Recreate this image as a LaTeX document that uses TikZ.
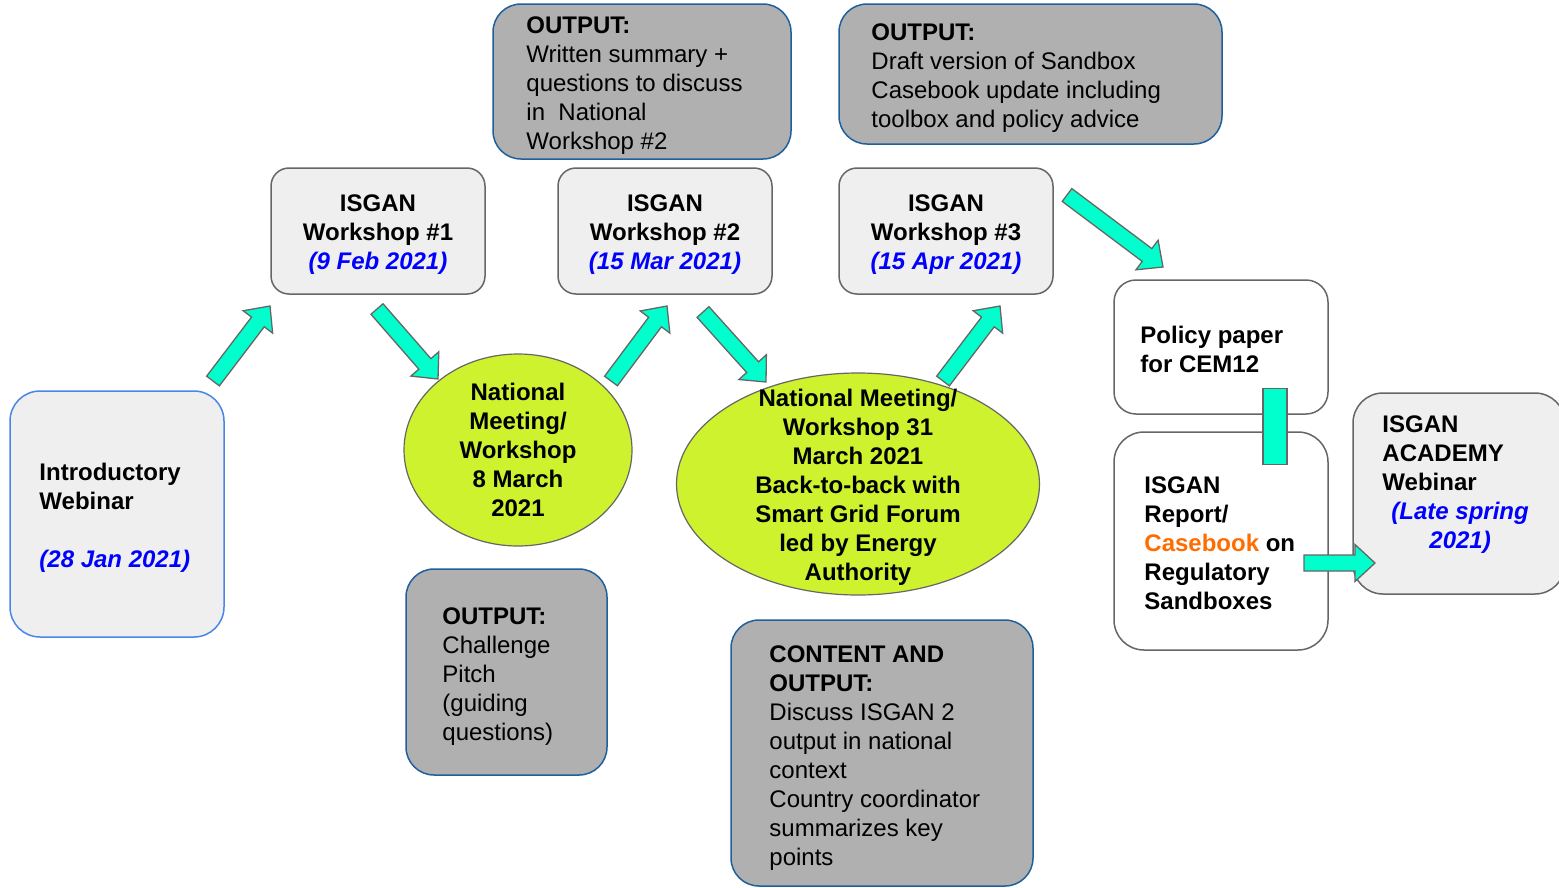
\documentclass[tikz,border=0pt]{standalone}
\usepackage{fontspec}
\setmainfont{Liberation Sans}
\usepackage{tikz}
\usetikzlibrary{shapes.geometric,calc}
\definecolor{lightfill}{HTML}{EFEFEF}
\definecolor{outfill}{HTML}{B0B0B0}
\definecolor{outblue}{HTML}{1F5F9C}
\definecolor{introblue}{HTML}{4A86E8}
\definecolor{boxgray}{HTML}{666666}
\definecolor{meetgreen}{HTML}{CEF22E}
\definecolor{arrowaqua}{HTML}{00FFCC}
\definecolor{dateblue}{HTML}{0000FF}
\definecolor{caseorange}{HTML}{FF6D01}
\newcommand{\diagfont}{\fontsize{24}{29}\selectfont}
\newcommand{\datetxt}[1]{{\color{dateblue}\itshape #1}}
\tikzset{
  lightbox/.style={draw=boxgray,line width=1.5pt,fill=lightfill,rounded corners=18pt,
    minimum width=214pt,minimum height=126pt},
  outbox/.style={draw=outblue,line width=1.5pt,fill=outfill,rounded corners=28pt},
  whitebox/.style={draw=boxgray,line width=1.5pt,fill=white,rounded corners=24pt,minimum width=214pt},
  meet/.style={ellipse,draw=boxgray,line width=1.2pt,fill=meetgreen},
  boldtext/.style={font=\diagfont\bfseries,align=center,inner sep=0pt},
  plaintext/.style={font=\diagfont,align=left,inner sep=0pt,anchor=west},
  blockarrow/.style={draw=boxgray,line width=1.3pt,fill=arrowaqua,line join=miter}
}
% block arrow from tail #1 to tip #2
\newcommand{\blockarrow}[2]{%
  \coordinate (hb) at ($(#2)!20pt!(#1)$);
  \draw[blockarrow] ($(#1)!8pt!90:(#2)$) -- ($(hb)!8pt!-90:(#1)$) -- ($(hb)!18.5pt!-90:(#1)$)
    -- (#2) -- ($(hb)!18.5pt!90:(#1)$) -- ($(hb)!8pt!90:(#1)$) -- ($(#1)!8pt!-90:(#2)$) -- cycle;}
\begin{document}
\begin{tikzpicture}[x=1pt,y=-1pt]
\useasboundingbox (0,0) rectangle (1559,887);

% webinar and workshops
\node[lightbox,draw=introblue,rounded corners=30pt,minimum height=246pt] (intro) at (117,514) {};
\node[boldtext,align=left,anchor=west] (introtext) at ([xshift=30pt,yshift=-3.5pt]intro.west)
  {Introductory\\Webinar\\~\\\datetxt{(28 Jan 2021)}};
\node[lightbox] (ws1) at (378,231) {};
\node[boldtext] (ws1text) at ([yshift=-4pt]ws1.center) {ISGAN\\Workshop \#1\\\datetxt{(9 Feb 2021)}};
\node[lightbox] (ws2) at (665,231) {};
\node[boldtext] (ws2text) at ([yshift=-4pt]ws2.center) {ISGAN\\Workshop \#2\\\datetxt{(15 Mar 2021)}};
\node[lightbox] (ws3) at (946,231) {};
\node[boldtext] (ws3text) at ([yshift=-4pt]ws3.center) {ISGAN\\Workshop \#3\\\datetxt{(15 Apr 2021)}};

% outputs
\node[outbox,minimum width=298pt,minimum height=155pt] (out1) at (642,81.5) {};
\node[plaintext] (out1text) at ([xshift=34pt,yshift=-4.5pt]out1.west)
  {\textbf{OUTPUT:}\\Written summary +\\questions to discuss\\in\ \ National\\Workshop \#2};
\node[outbox,minimum width=383pt,minimum height=140pt] (out2) at (1030.5,74) {};
\node[plaintext] (out2text) at ([xshift=33pt,yshift=-4pt]out2.west)
  {\textbf{OUTPUT:}\\Draft version of Sandbox\\Casebook update including\\toolbox and policy advice};
\node[outbox,minimum width=201pt,minimum height=206pt] (chal) at (506.5,672) {};
\node[plaintext] (chaltext) at ([xshift=37pt,yshift=-5pt]chal.west)
  {\textbf{OUTPUT:}\\Challenge\\Pitch\\(guiding\\questions)};
\node[outbox,minimum width=302pt,minimum height=266pt] (content) at (882,753) {};
\node[plaintext] (contenttext) at ([xshift=39pt,yshift=-5pt]content.west)
  {\textbf{CONTENT AND}\\\textbf{OUTPUT:}\\Discuss ISGAN 2\\output in national\\context\\Country coordinator\\summarizes key\\points};

% national meetings
\node[meet,minimum width=228pt,minimum height=192pt] (nm1) at (518,450) {};
\node[boldtext] (nm1text) at (nm1) {National\\Meeting/\\Workshop\\8 March\\2021};
\node[meet,minimum width=363pt,minimum height=222pt] (nm2) at (858,484) {};
\node[boldtext] (nm2text) at (858,487) {National Meeting/\\Workshop 31\\March 2021\\Back-to-back with\\Smart Grid Forum\\led by Energy\\Authority};

% results
\node[whitebox,minimum height=134pt,rounded corners=22pt] (policy) at (1221,347) {};
\node[boldtext,align=left,anchor=west] (policytext) at ([xshift=27pt,yshift=-2pt]policy.west) {Policy paper\\for CEM12};
\node[whitebox,minimum height=218pt,rounded corners=30pt] (report) at (1221,541) {};
\node[boldtext,align=left,anchor=west] (reporttext) at ([xshift=31pt,yshift=-2pt]report.west)
  {ISGAN\\Report/\\{\color{caseorange}Casebook} on\\Regulatory\\Sandboxes};
\node[whitebox,fill=lightfill,minimum width=212pt,minimum height=201pt,rounded corners=30pt] (academy) at (1459,493.5) {};
\node[boldtext,align=left,anchor=north west] (academytext) at ([xshift=30pt,yshift=-23pt]academy.north west)
  {ISGAN\\ACADEMY\\Webinar\\\hspace*{9pt}\datetxt{(Late spring}\\\hspace*{47pt}\datetxt{2021)}};

% arrows
\coordinate (a1s) at (213,381); \coordinate (a1e) at (270,306);
\coordinate (a2s) at (377,309); \coordinate (a2e) at (438,379);
\coordinate (a3s) at (611,381); \coordinate (a3e) at (667,306);
\coordinate (a4s) at (703,312); \coordinate (a4e) at (766,382);
\coordinate (a5s) at (943,381); \coordinate (a5e) at (1000,306);
\coordinate (a6s) at (1067,195); \coordinate (a6e) at (1163,267);
\coordinate (a7s) at (1304,563); \coordinate (a7e) at (1375,563);
\blockarrow{a1s}{a1e}
\blockarrow{a2s}{a2e}
\blockarrow{a3s}{a3e}
\blockarrow{a4s}{a4e}
\blockarrow{a5s}{a5e}
\blockarrow{a6s}{a6e}
\blockarrow{a7s}{a7e}
\draw[blockarrow] ([xshift=42pt,yshift=26pt]policy.south) rectangle ([xshift=66pt,yshift=-33pt]report.north);
\end{tikzpicture}
\end{document}
